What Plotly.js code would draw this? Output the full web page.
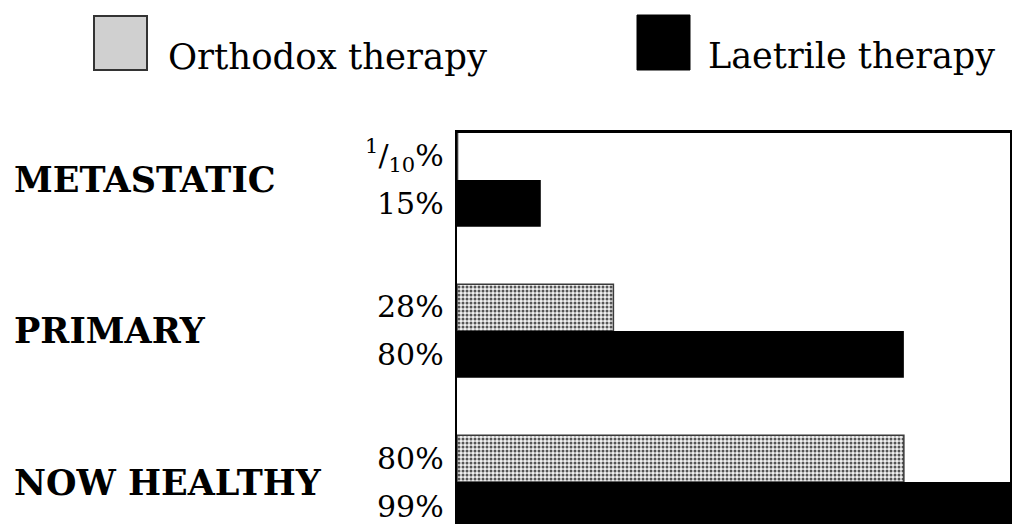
<!DOCTYPE html>
<html>
<head>
<meta charset="utf-8">
<script src="https://cdn.plot.ly/plotly-3.0.1.min.js"></script>
<style>
html,body{margin:0;padding:0;background:#fff;overflow:hidden;}
#chart{width:1012px;height:524px;}
</style>
</head>
<body>
<div id="chart"></div>
<script>
// ---- data ----
const categories = ['METASTATIC', 'PRIMARY', 'NOW HEALTHY'];
const orthodox = [0.1, 28, 80];
const laetrile = [15, 80, 99];
const orthodoxLabels = ['<sup>1</sup>/<sub>10</sub>%', '28%', '80%'];
const laetrileLabels = ['15%', '80%', '99%'];
const seriesNames = ['Orthodox therapy', 'Laetrile therapy'];

// ---- layout helpers ----
const W = 1012, H = 524;
const M = {l: 457, r: 2, t: 133, b: 0};
const pw = W - M.l - M.r, ph = H - M.t - M.b;
const px = x => (x - M.l) / pw;          // pixel x -> paper
const py = y => (H - M.b - y) / ph;      // pixel y -> paper
const FONT = '"DejaVu Serif", "Liberation Serif", serif';

const traces = [
  {
    type: 'bar', orientation: 'h', name: seriesNames[0],
    y: categories, x: orthodox,
    marker: {
      color: '#ffffff',
      line: {color: '#3a3a3a', width: 1.5},
      pattern: {shape: '.', fgcolor: '#555555', bgcolor: '#f0f0f0', size: 4, solidity: 0.45}
    },
    hoverinfo: 'x+y'
  },
  {
    type: 'bar', orientation: 'h', name: seriesNames[1],
    y: categories, x: laetrile,
    marker: {color: '#000000', line: {width: 0}},
    hoverinfo: 'x+y'
  }
];

const annotations = [];
// category labels
categories.forEach(c => {
  annotations.push({
    xref: 'paper', yref: 'y', x: px(12), y: c, xanchor: 'left', yanchor: 'middle',
    text: '<b>' + c + '</b>', showarrow: false,
    font: {family: FONT, size: 35, color: '#000'}
  });
});
// value labels
categories.forEach((c, i) => {
  annotations.push({
    xref: 'x', yref: 'y', x: 0, y: c, xanchor: 'right', yanchor: 'middle',
    xshift: -11, yshift: 24, text: orthodoxLabels[i], showarrow: false,
    font: {family: FONT, size: 30, color: '#000'}
  });
  annotations.push({
    xref: 'x', yref: 'y', x: 0, y: c, xanchor: 'right', yanchor: 'middle',
    xshift: -11, yshift: -24, text: laetrileLabels[i], showarrow: false,
    font: {family: FONT, size: 30, color: '#000'}
  });
});
// legend texts
annotations.push({
  xref: 'paper', yref: 'paper', x: px(166), y: py(56), xanchor: 'left', yanchor: 'middle',
  text: seriesNames[0], showarrow: false, font: {family: FONT, size: 35.5, color: '#000'}
});
annotations.push({
  xref: 'paper', yref: 'paper', x: px(706), y: py(56), xanchor: 'left', yanchor: 'middle',
  text: seriesNames[1], showarrow: false, font: {family: FONT, size: 35, color: '#000'}
});

const shapes = [
  {type: 'rect', xref: 'paper', yref: 'paper', x0: px(94), x1: px(147), y0: py(70), y1: py(16),
   fillcolor: '#d0d0d0', line: {color: '#333', width: 2}},
  {type: 'rect', xref: 'paper', yref: 'paper', x0: px(637), x1: px(690), y0: py(70), y1: py(15),
   fillcolor: '#000', line: {color: '#000', width: 1}}
];

const layout = {
  width: W, height: H,
  margin: M,
  paper_bgcolor: '#fff', plot_bgcolor: '#fff',
  barmode: 'group', bargap: 0.38, bargroupgap: 0,
  showlegend: false,
  font: {family: FONT, color: '#000'},
  xaxis: {
    range: [0, 99], side: 'top', showline: true, linecolor: '#000', linewidth: 3,
    mirror: false, showgrid: false, zeroline: false, showticklabels: false, ticks: '',
    automargin: false
  },
  yaxis: {
    type: 'category', categoryarray: categories, range: [2.278, -0.311],
    showline: true, linecolor: '#000', linewidth: 2, mirror: true,
    showgrid: false, zeroline: false, showticklabels: false, ticks: '',
    automargin: false
  },
  annotations: annotations,
  shapes: shapes
};

Plotly.newPlot('chart', traces, layout, {displayModeBar: false, staticPlot: true});
</script>
</body>
</html>
